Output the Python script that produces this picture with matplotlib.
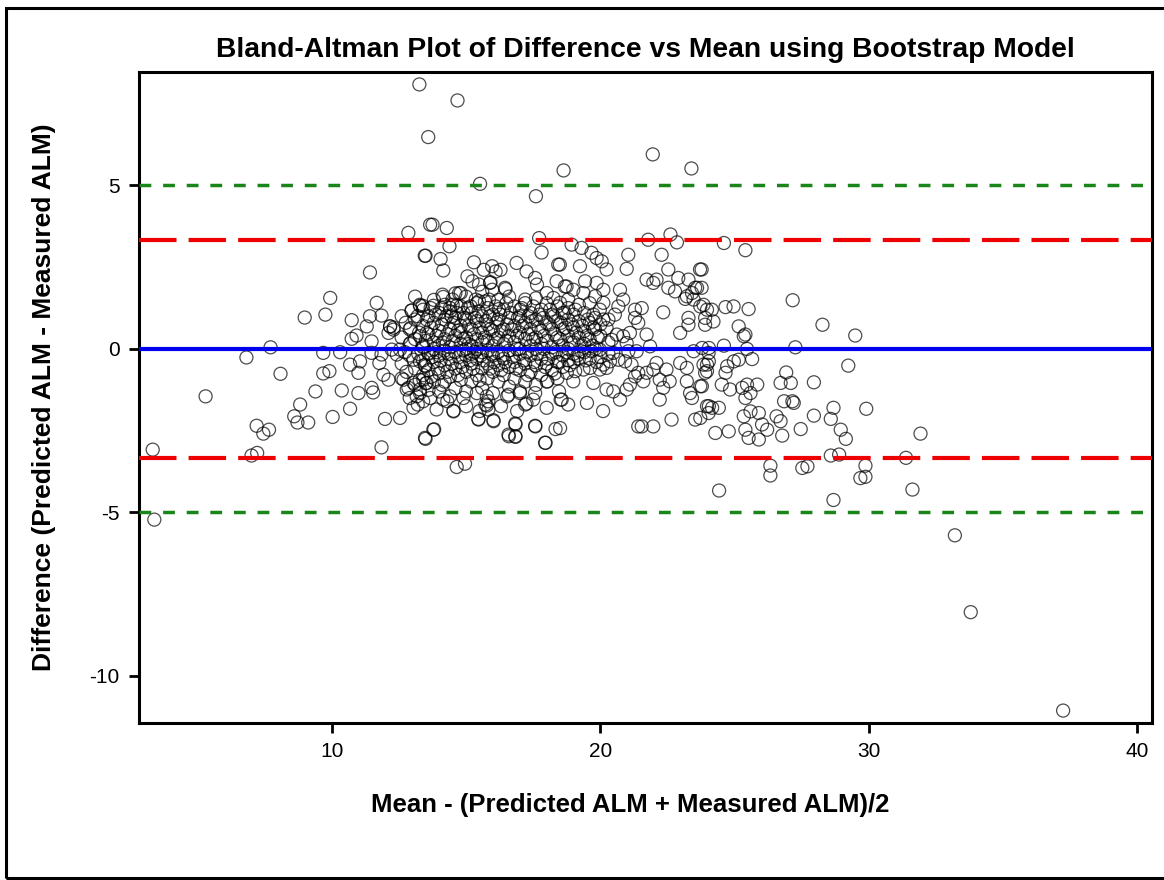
import matplotlib
matplotlib.use("Agg")
import matplotlib.pyplot as plt
import numpy as np
from matplotlib.patches import Rectangle

plt.rcParams['font.family'] = ['Liberation Sans', 'DejaVu Sans']
plt.rcParams['axes.unicode_minus'] = False

# ---- data: (mean, difference) ----
outliers = [(13.26, 8.09), (14.68, 7.60), (13.59, 6.48), (15.52, 5.05), (17.60, 4.67),
            (18.63, 5.46), (21.95, 5.95), (23.39, 5.52), (3.33, -3.08), (3.39, -5.22),
            (5.30, -1.45), (37.23, -11.06), (33.79, -8.05), (33.20, -5.70), (31.62, -4.30),
            (31.92, -2.59), (31.38, -3.33), (29.90, -1.83), (29.87, -3.57), (29.68, -3.95),
            (29.87, -3.91), (28.68, -4.62), (24.42, -4.33), (28.27, 0.74), (29.49, 0.41),
            (27.16, 1.49), (27.26, 0.05), (29.23, -0.51)]

left_pts = [(12.85, 3.55), (13.46, 2.85), (13.66, 3.80), (11.42, 2.34), (9.94, 1.56),
            (9.76, 1.05), (8.99, 0.96), (11.67, 1.41), (11.42, 1.00), (11.85, 1.02),
            (10.74, 0.88), (11.30, 0.69), (12.17, 0.69), (12.30, 0.65), (12.97, 1.17),
            (13.28, 1.32), (12.93, 0.64), (7.72, 0.05), (6.82, -0.26), (8.09, -0.76),
            (9.68, -0.12), (10.31, -0.10), (10.74, 0.31), (10.92, 0.41), (11.48, 0.23),
            (10.68, -0.48), (11.05, -0.38), (10.99, -0.73), (9.68, -0.75), (9.91, -0.68),
            (9.39, -1.30), (10.37, -1.27), (10.99, -1.35), (11.48, -1.19), (11.54, -1.33),
            (8.82, -1.70), (8.60, -2.06), (8.72, -2.25), (9.12, -2.25), (10.03, -2.08),
            (10.68, -1.83), (11.98, -2.14), (12.54, -2.11), (11.85, -3.01), (7.20, -2.35),
            (7.45, -2.59), (7.66, -2.47), (7.01, -3.26), (7.22, -3.18), (11.77, -0.43),
            (11.92, -0.79), (12.11, -0.94), (11.48, -0.12), (11.85, -0.17), (12.23, -0.02),
            (12.42, -0.17), (12.54, -0.02), (12.67, -0.94), (12.85, -1.19), (13.04, -1.04),
            (13.28, -1.35), (13.04, -1.80), (13.49, -2.75), (13.04, -0.33), (13.28, -0.38),
            (13.49, -0.53), (12.93, 0.18), (13.28, 0.39), (13.53, 0.49), (13.41, 0.08),
            (13.60, -0.12), (13.81, -2.46), (14.53, -1.89), (14.65, -3.61), (14.96, -3.51),
            (13.66, -1.50), (13.16, -1.45), (13.28, -1.24), (12.79, -1.24), (14.15, -1.55),
            (12.17, 0.69), (12.30, 0.59), (12.11, 0.49), (13.28, 1.35), (12.97, 1.18),
            (13.78, 1.32), (14.15, 1.59), (14.09, 1.25), (14.40, 1.25), (14.65, 1.32),
            (14.46, 1.00), (14.90, 1.10), (13.38, 1.32), (13.53, -1.04), (13.41, -0.94),
            (13.78, -2.47), (13.47, -2.72)]

mid_pts = [(13.75, 3.80), (14.28, 3.70), (14.38, 3.14), (13.49, 2.85), (14.05, 2.75),
           (14.15, 2.40), (15.29, 2.65), (15.66, 2.42), (15.97, 2.53), (16.10, 2.37),
           (16.28, 2.42), (16.88, 2.63), (17.25, 2.37), (17.57, 2.17), (17.64, 1.97),
           (17.72, 3.39), (17.81, 2.95), (18.43, 2.58), (18.37, 2.07), (18.74, 1.91),
           (15.05, 2.22), (15.24, 2.07), (15.48, 1.97), (14.80, 1.71), (14.49, 1.51),
           (14.12, 1.66), (15.89, 2.02), (16.45, 1.87), (17.20, 1.51), (17.01, 1.20),
           (18.00, 1.71), (18.25, 1.56), (18.50, 1.41), (18.80, 1.51), (15.91, 2.04),
           (15.97, 1.81), (16.47, 1.83), (15.85, 1.51), (15.36, 1.51), (16.22, 1.22),
           (14.74, 1.71), (15.17, 1.30), (15.48, 1.46), (14.53, -1.91), (15.46, -2.16),
           (16.02, -2.21), (15.72, -1.70), (15.83, -1.85), (16.53, -1.45), (17.25, -1.67),
           (17.01, -1.35), (17.57, -1.35), (16.84, -2.31), (16.59, -2.67), (16.84, -2.69),
           (17.58, -2.37), (17.96, -2.87), (18.33, -2.45), (18.52, -1.55), (18.46, -1.30),
           (18.03, -0.99), (15.46, -2.14), (16.02, -2.18), (15.77, -1.73), (15.83, -1.60),
           (16.58, -2.62), (16.83, -2.67), (16.83, -2.28), (17.20, -1.70), (17.57, -2.35),
           (17.94, -2.87), (16.58, -1.40), (14.90, -1.50), (15.40, -1.35), (15.77, -1.45)]

right_pts = [(21.78, 3.34), (22.61, 3.50), (22.85, 3.26), (18.93, 3.19), (19.30, 3.09),
             (19.67, 2.94), (19.86, 2.78), (20.05, 2.68), (20.23, 2.43), (21.04, 2.88),
             (20.98, 2.45), (22.28, 2.88), (22.53, 2.43), (22.90, 2.17), (23.71, 2.43),
             (19.24, 2.53), (18.49, 2.58), (21.72, 2.12), (22.09, 2.12), (21.97, 2.02),
             (22.53, 1.87), (22.78, 1.76), (23.28, 2.12), (23.53, 1.87), (23.22, 1.61),
             (23.47, 1.51), (23.72, 1.30), (23.97, 1.20), (22.34, 1.12), (23.28, 0.95),
             (22.97, 0.49), (19.43, 2.07), (19.86, 2.02), (20.11, 1.81), (19.80, 1.61),
             (19.37, 1.71), (18.99, 1.81), (18.68, 1.91), (20.73, 1.81), (20.85, 1.51),
             (20.67, 1.30), (20.54, 1.05), (21.29, 1.20), (21.54, 1.25), (21.29, 0.95),
             (21.41, 0.80), (21.72, 0.44), (21.85, 0.08), (20.11, 1.41), (19.98, 1.20),
             (19.74, 1.05), (20.11, 0.90), (20.23, 0.64), (20.61, 0.44), (20.85, 0.39),
             (21.10, 0.49), (20.98, 0.18), (20.42, 0.28), (21.35, -0.07), (21.16, -0.48),
             (21.41, -0.73), (21.29, -0.84), (21.60, -0.99), (21.72, -0.73), (21.97, -0.63),
             (22.09, -0.43), (22.21, -0.94), (22.58, -0.99), (22.34, -1.19), (22.21, -1.55),
             (22.46, -0.63), (22.97, -0.43), (23.22, -0.58), (23.22, -0.99), (23.34, -1.35),
             (23.41, -1.50), (23.72, -1.14), (23.97, -0.68), (24.03, -0.12), (23.47, -0.07),
             (23.84, -0.48), (22.65, -2.16), (23.53, -2.16), (21.54, -2.37), (21.41, -2.37),
             (21.97, -2.37), (23.97, -1.75), (24.03, -1.96), (20.23, -1.24), (20.48, -1.30),
             (20.73, -1.55), (20.98, -1.24), (21.10, -1.09), (19.74, -1.04), (19.98, -0.63),
             (20.11, -0.48), (20.23, -0.58), (19.61, -0.58), (19.37, -0.63), (19.06, -0.68),
             (18.99, -0.99), (18.75, -0.73), (18.56, -1.55), (18.50, -2.42), (20.48, -0.12),
             (20.67, -0.33), (21.04, -0.07), (20.92, -0.38), (20.36, -0.38), (19.98, -0.02),
             (19.67, -0.07), (19.30, -0.07), (23.28, 0.74), (23.60, 1.87), (23.41, 1.71),
             (23.16, 1.53)]

far_right_pts = [(24.60, 3.24), (25.40, 3.02), (23.77, 2.43), (23.77, 1.87), (23.84, 1.35),
                 (24.15, 1.20), (23.90, 0.95), (24.21, 0.84), (23.90, 0.74), (24.66, 1.28),
                 (24.96, 1.30), (25.52, 1.22), (25.15, 0.69), (25.34, 0.39), (25.40, 0.44),
                 (24.60, 0.10), (24.04, 0.03), (23.79, 0.03), (25.46, 0.00), (25.65, -0.31),
                 (25.15, -0.33), (24.97, -0.38), (24.72, -0.53), (24.04, -0.38), (23.97, -0.48),
                 (23.90, -0.73), (24.66, -0.73), (24.52, -1.09), (24.83, -1.24), (23.78, -1.14),
                 (23.72, -2.11), (24.04, -1.75), (24.16, -1.80), (24.41, -1.80), (24.28, -2.57),
                 (24.78, -2.52), (25.28, -1.19), (25.46, -1.09), (25.59, -1.35), (25.84, -1.09),
                 (25.40, -1.50), (25.34, -2.06), (25.59, -1.91), (25.90, -1.96), (26.02, -2.31),
                 (26.21, -2.47), (25.40, -2.47), (25.52, -2.72), (25.90, -2.77), (26.56, -2.06),
                 (26.71, -2.21), (26.77, -2.65), (27.46, -2.45), (27.95, -2.04), (26.92, -0.72),
                 (26.71, -1.04), (27.09, -1.04), (26.84, -1.60), (27.20, -1.65), (27.15, -1.60),
                 (27.95, -1.02), (28.68, -1.80), (28.58, -2.14), (28.95, -2.47), (29.14, -2.75),
                 (28.58, -3.26), (28.89, -3.23), (26.33, -3.57), (26.33, -3.87), (27.52, -3.64),
                 (27.71, -3.59)]

# dense centre of the cloud, column by column
core_pts = [(12.6, 0.35), (12.6, -0.45), (12.6, 1.0), (12.6, -0.9),
            (12.9, -0.2), (12.9, 0.6), (12.9, -1.5), (12.9, 0.15),
            (13.1, 0.9), (13.1, -0.6), (13.1, 0.3), (13.1, -1.1), (13.1, 1.6),
            (13.4, 0.05), (13.4, -0.35), (13.4, 0.7), (13.4, -0.8), (13.4, 1.2), (13.4, -1.6),
            (13.6, 0.45), (13.6, -0.15), (13.6, 1.0), (13.6, -0.65), (13.6, -1.25),
            (13.8, 0.2), (13.8, -0.4), (13.8, 0.8), (13.8, -1.0), (13.8, 1.5), (13.8, 0.0),
            (14.0, 0.55), (14.0, -0.2), (14.0, 1.1), (14.0, -0.75), (14.0, -1.3), (14.0, 0.1),
            (14.2, 0.3), (14.2, -0.5), (14.2, 0.9), (14.2, -0.05), (14.2, 1.35), (14.2, -1.0),
            (14.4, 0.6), (14.4, -0.3), (14.4, 0.05), (14.4, -0.85), (14.4, 1.15), (14.4, -1.45),
            (14.6, 0.4), (14.6, -0.1), (14.6, 0.95), (14.6, -0.6), (14.6, -1.2), (14.6, 1.7),
            (14.8, 0.15), (14.8, -0.4), (14.8, 0.7), (14.8, -0.95), (14.8, 1.3), (14.8, 0.5),
            (15.0, 0.35), (15.0, -0.2), (15.0, 0.9), (15.0, -0.7), (15.0, -1.3), (15.0, 1.6), (15.0, 0.0),
            (15.2, 0.6), (15.2, -0.45), (15.2, 0.1), (15.2, 1.1), (15.2, -1.0), (15.2, -0.15),
            (15.4, 0.3), (15.4, -0.3), (15.4, 0.85), (15.4, -0.8), (15.4, 1.4), (15.4, 0.0),
            (15.6, 0.5), (15.6, -0.1), (15.6, 1.0), (15.6, -0.6), (15.6, -1.2), (15.6, 0.2), (15.6, 1.75),
            (15.8, 0.25), (15.8, -0.45), (15.8, 0.75), (15.8, -0.9), (15.8, 1.25), (15.8, -0.05),
            (16.0, 0.55), (16.0, -0.2), (16.0, 1.05), (16.0, -0.7), (16.0, 0.1), (16.0, -1.35),
            (16.2, 0.35), (16.2, -0.5), (16.2, 0.9), (16.2, -0.1), (16.2, 1.5), (16.2, -1.0),
            (16.4, 0.6), (16.4, -0.3), (16.4, 0.15), (16.4, 1.2), (16.4, -0.8),
            (16.6, 0.4), (16.6, -0.05), (16.6, 0.95), (16.6, -0.55), (16.6, -1.15), (16.6, 1.6),
            (16.8, 0.2), (16.8, -0.4), (16.8, 0.7), (16.8, 1.3), (16.8, -0.9),
            (17.0, 0.5), (17.0, -0.15), (17.0, 1.0), (17.0, -0.65), (17.0, 0.0), (17.0, -1.3),
            (17.2, 0.3), (17.2, -0.45), (17.2, 0.8), (17.2, 1.4), (17.2, -1.0),
            (17.4, 0.6), (17.4, -0.2), (17.4, 1.1), (17.4, -0.7), (17.4, 0.1),
            (17.6, 0.35), (17.6, -0.5), (17.6, 0.9), (17.6, 1.55), (17.6, -1.1), (17.6, 0.0),
            (17.8, 0.55), (17.8, -0.3), (17.8, 1.2), (17.8, -0.8), (17.8, 0.15),
            (18.0, 0.25), (18.0, -0.45), (18.0, 0.8), (18.0, 1.4), (18.0, -1.0),
            (18.2, 0.6), (18.2, -0.15), (18.2, 1.05), (18.2, -0.65), (18.2, 0.05),
            (18.4, 0.35), (18.4, -0.4), (18.4, 0.85), (18.4, 1.3), (18.4, -0.9),
            (18.6, 0.6), (18.6, -0.2), (18.6, 1.1), (18.6, -0.55), (18.6, 0.1),
            (18.8, 0.4), (18.8, -0.35), (18.8, 0.9), (18.8, 1.25), (18.8, 0.0),
            (19.0, 0.65), (19.0, -0.15), (19.0, 1.05), (19.0, -0.4), (19.0, 0.2),
            (19.2, 0.35), (19.2, -0.3), (19.2, 0.85), (19.2, 1.35),
            (19.4, 0.55), (19.4, -0.1), (19.4, 1.1), (19.4, 0.15),
            (19.6, 0.3), (19.6, -0.3), (19.6, 0.8), (19.6, 1.4),
            (19.8, 0.6), (19.8, 0.0), (19.8, 0.95),
            (20.0, 0.4), (20.0, -0.25), (20.0, 0.75),
            (20.3, 0.2), (20.3, -0.15), (20.3, 0.9),
            (13.2, -1.7), (13.9, -1.85), (14.3, -1.6), (15.0, -1.75), (15.5, -1.9),
            (16.3, -1.75), (16.9, -1.9), (17.5, -1.55), (18.0, -1.8), (18.8, -1.7),
            (19.5, -1.65), (20.1, -1.9)]

# second, in-between layer of the centre (the cloud is much darker there)
core_fill = [(12.75, 0.8), (12.72, -0.1), (12.78, -0.7),
             (13.25, 0.5), (13.22, -0.15), (13.27, -0.95), (13.2, 1.0),
             (13.5, 0.25), (13.46, -0.5), (13.53, 0.9), (13.5, -1.05),
             (13.7, 0.65), (13.74, -0.25), (13.68, 1.25), (13.7, -0.85),
             (13.9, 0.4), (13.94, -0.6), (13.87, 1.05), (13.9, -0.1),
             (14.1, 0.75), (14.05, -0.35), (14.13, 0.2), (14.1, -1.1),
             (14.3, 0.45), (14.34, -0.15), (14.27, 1.0), (14.3, -0.7),
             (14.5, 0.25), (14.47, -0.45), (14.53, 0.8), (14.5, 1.35),
             (14.7, 0.55), (14.73, -0.25), (14.66, 1.1), (14.7, -0.8),
             (14.9, 0.3), (14.86, -0.55), (14.93, 0.95), (14.9, -0.05),
             (15.1, 0.7), (15.14, -0.35), (15.07, 1.25), (15.1, 0.15),
             (15.3, 0.45), (15.26, -0.6), (15.33, 0.95), (15.3, -0.1),
             (15.5, 0.65), (15.54, -0.2), (15.47, 1.15), (15.5, -0.95),
             (15.7, 0.35), (15.66, -0.35), (15.73, 0.85), (15.7, 1.45),
             (15.9, 0.6), (15.94, -0.15), (15.87, 1.0), (15.9, -0.6),
             (16.1, 0.3), (16.06, -0.4), (16.13, 0.8), (16.1, 1.3),
             (16.3, 0.55), (16.34, -0.2), (16.27, 1.05), (16.3, -0.65),
             (16.5, 0.25), (16.46, -0.4), (16.53, 0.75), (16.5, 1.4),
             (16.7, 0.6), (16.74, -0.25), (16.67, 1.1),
             (16.9, 0.4), (16.86, -0.6), (16.93, 0.95), (16.9, 0.0),
             (17.1, 0.7), (17.14, -0.35), (17.07, 1.25),
             (17.3, 0.45), (17.26, -0.1), (17.33, 1.0), (17.3, -0.8),
             (17.5, 0.3), (17.54, -0.4), (17.47, 0.85), (17.5, 1.3),
             (17.7, 0.65), (17.66, -0.15), (17.73, 1.05),
             (17.9, 0.4), (17.94, -0.55), (17.87, 0.95), (17.9, 0.0),
             (18.1, 0.75), (18.06, -0.3), (18.13, 1.2),
             (18.3, 0.45), (18.34, -0.1), (18.27, 1.0), (18.3, -0.75),
             (18.5, 0.3), (18.46, -0.4), (18.53, 0.8),
             (18.7, 0.65), (18.74, -0.1), (18.67, 1.1),
             (18.9, 0.2), (18.86, -0.5), (18.93, 0.75),
             (19.1, 0.5), (19.14, -0.2), (19.07, 1.2),
             (19.3, 0.1), (19.33, 0.7),
             (19.5, 0.4), (19.46, -0.35), (19.53, 0.9),
             (19.7, 0.1), (19.73, 0.65),
             (19.9, 0.35), (19.86, -0.4)]

BIAS = 0.0
LOA = 3.33     # 95% limits of agreement
OUTER = 5.0

all_pts = np.array(outliers + left_pts + mid_pts + right_pts + far_right_pts + core_pts + core_fill)
mean_vals = all_pts[:, 0]
diff_vals = all_pts[:, 1]

fig = plt.figure(figsize=(11.64, 8.8), dpi=100)
ax = fig.add_axes([139 / 1164, 1 - 723 / 880, (1152 - 139) / 1164, (723 - 72) / 880])

# frame around the whole picture
fig.patches.append(Rectangle((6 / 1164, 2 / 880), 1.2, 1 - 10 / 880, transform=fig.transFigure,
                             fill=False, edgecolor='black', linewidth=2.2, zorder=0))

ax.scatter(mean_vals, diff_vals, s=88, facecolors='none', edgecolors='black',
           linewidths=0.9, alpha=0.7, zorder=3)

ax.axhline(BIAS, color='#0000ee', linewidth=3.0, zorder=4)
for y in (LOA, -LOA):
    ax.axhline(y, color='#ee0000', linewidth=3.0, dashes=(9, 2.9), zorder=4)
for y in (OUTER, -OUTER):
    ax.axhline(y, color='#1a861a', linewidth=2.5, dashes=(3.4, 3.4), zorder=4)

ax.set_xlim(2.82, 40.54)
ax.set_ylim(-11.44, 8.47)
ax.set_xticks([10, 20, 30, 40])
ax.set_yticks([5, 0, -5, -10])
for sp in ax.spines.values():
    sp.set_linewidth(2.2)
ax.tick_params(axis='both', length=7, width=2, labelsize=15, pad=7)

ax.set_title('Bland-Altman Plot of Difference vs Mean using Bootstrap Model',
             fontsize=20.3, fontweight='bold', pad=11)
ax.set_xlabel('Mean - (Predicted ALM + Measured ALM)/2', fontsize=18.5, fontweight='bold')
ax.xaxis.set_label_coords(0.485, -0.108)
ax.set_ylabel('Difference (Predicted ALM - Measured ALM)', fontsize=19, fontweight='bold', labelpad=24)

fig.savefig('out.png', dpi=100)
